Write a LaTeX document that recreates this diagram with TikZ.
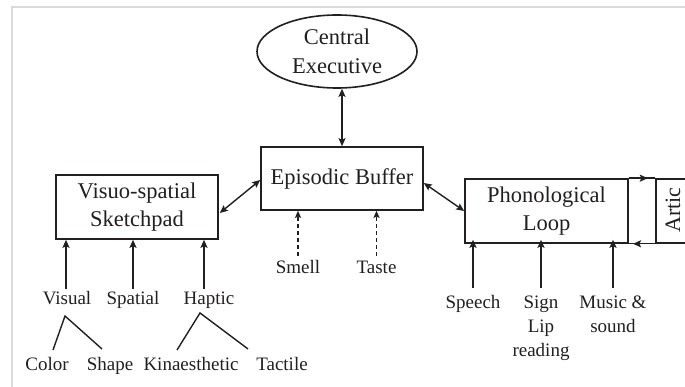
\documentclass[tikz,border=0pt]{standalone}
\usepackage{fontspec}
\setmainfont{Liberation Serif}
\usetikzlibrary{arrows.meta,calc,shapes.geometric}
\definecolor{ink}{HTML}{231F20}
\definecolor{framegray}{HTML}{DADADA}
\begin{document}
\begin{tikzpicture}[x=1pt,y=-1pt,
  every node/.style={text=ink},
  box/.style={draw=ink, line width=1.6pt, align=center, inner sep=0pt, font=\fontsize{22.5}{28}\selectfont},
  lbl/.style={font=\fontsize{19}{24}\selectfont, inner sep=3pt, text height=13pt, text depth=4pt, anchor=base},
  conn/.style={draw=ink, line width=1.4pt},
  tip/.style={-{Stealth[length=8pt,width=7pt,inset=1.5pt]}},
  smalltip/.style={-{Stealth[length=7pt,width=6pt,inset=1.2pt]}},
  both/.style={{Stealth[length=8pt,width=7pt,inset=1.5pt]}-{Stealth[length=8pt,width=7pt,inset=1.5pt]}},
  dashedline/.style={dash pattern=on 4pt off 3pt},
]
\useasboundingbox (0,0) rectangle (685,387);
\fill[white] (0,0) rectangle (685,387);
\draw[framegray, line width=1.2pt] (12,387) -- (12,7) -- (685,7);

% main components
\node[box, ellipse, minimum width=160pt, minimum height=73pt, font=\fontsize{22.5}{29}\selectfont] (CE) at (337,51.5) {Central\\Executive};
\node[box, minimum width=162pt, minimum height=63pt] (EB) at (342,178.5) {Episodic Buffer};
\node[box, minimum width=162pt, minimum height=64pt] (VS) at (137,207) {Visuo-spatial\\Sketchpad};
\node[box, minimum width=163pt, minimum height=64pt] (PL) at (546.5,211) {Phonological\\Loop};
\node[box, minimum width=60pt, minimum height=64pt, anchor=west] (AR) at (655,211) {};
\node[font=\fontsize{22}{28}\selectfont, rotate=90, inner sep=0pt] (ARt) at (673,210) {Artic};

% connections between components
\draw[conn, both] (EB.north |- CE.south) -- (EB.north);
\draw[conn, both] ($(VS.east)+(1,6)$) -- ($(EB.west)+(0,1.5)$);
\draw[conn, both] ($(EB.east)+(0,4.5)$) -- (PL.west);
\draw[conn] (PL.north east) -- (AR.north west);
\draw[conn, tip] (PL.north east) -- ++(19,0);
\draw[conn] (AR.south west) -- (PL.south east);
\draw[conn, tip] (AR.south west) -- ++(-22,0);

% visuo-spatial inputs
\node[lbl] (visual) at (67,305) {Visual};
\node[lbl] (spatial) at (133,305) {Spatial};
\node[lbl] (haptic) at (209,305) {Haptic};
\node[lbl] (color) at (47,370) {Color};
\node[lbl] (shape) at (110,370) {Shape};
\node[lbl] (kin) at (191,370) {Kinaesthetic};
\node[lbl] (tactile) at (282,370) {Tactile};

\draw[conn, tip] ([xshift=-1pt]visual.north) -- ([xshift=-1pt]visual.north |- VS.south);
\draw[conn, tip] (spatial.north) -- (spatial.north |- VS.south);
\draw[conn, tip] ([xshift=-5pt]haptic.north) -- ([xshift=-5pt]haptic.north |- VS.south);

\coordinate (vA) at (65,316);
\coordinate (vL) at (53,350);
\coordinate (vR) at (102,349);
\coordinate (hA) at (200,313);
\coordinate (hL) at (177,350);
\coordinate (hR) at (248,349);
\draw[conn] (vL) -- (vA) -- (vR);
\draw[conn] (hL) -- (hA) -- (hR);

% episodic buffer inputs
\node[lbl] (smell) at (298,273) {Smell};
\node[lbl] (taste) at (376.5,273) {Taste};
\draw[conn, smalltip, dashedline] ([yshift=1pt]smell.north) -- (smell.north |- EB.south);
\draw[conn, smalltip, dashedline] ([yshift=1pt]taste.north) -- (taste.north |- EB.south);

% phonological inputs
\node[lbl] (speech) at (473,308) {Speech};
\node[lbl] (sign) at (541,308) {Sign};
\node[lbl] (lip) at (541,332) {Lip};
\node[lbl] (reading) at (541,356) {reading};
\node[lbl] (music) at (613,308) {Music \&};
\node[lbl] (sound) at (613,332) {sound};

\draw[conn, tip] ([yshift=4pt]speech.north) -- ([yshift=4pt]speech.north |- PL.south);
\draw[conn, tip] ([yshift=4pt]sign.north) -- ([yshift=4pt]sign.north |- PL.south);
\draw[conn, tip] ([yshift=4pt]music.north) -- ([yshift=4pt]music.north |- PL.south);
\end{tikzpicture}
\end{document}
